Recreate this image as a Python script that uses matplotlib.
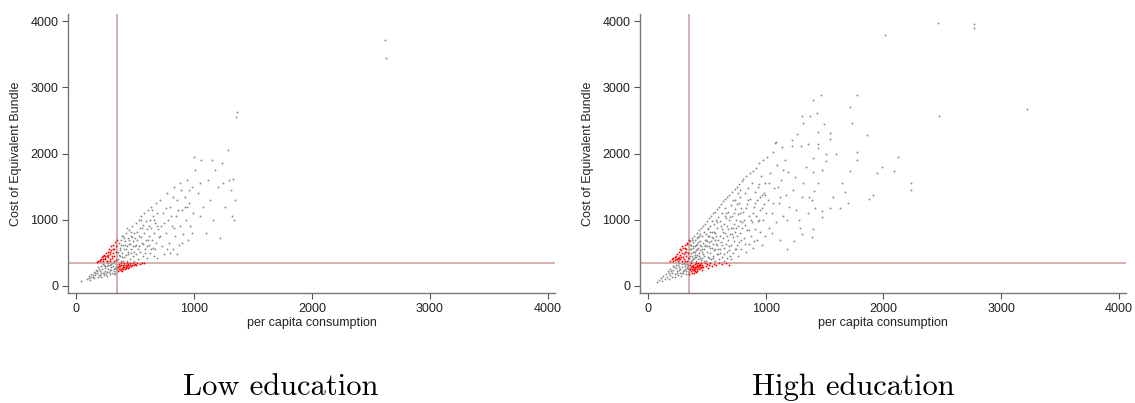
import numpy as np
import matplotlib
matplotlib.use('Agg')
import matplotlib.pyplot as plt

# poverty line (same on both axes)
poverty_line = 350
ticks = [0, 1000, 2000, 3000, 4000]
titles = ['Low education', 'High education']

# (per capita consumption, cost of equivalent bundle)
low_gray = [
    (40,80),(95,110),(110,150),(120,95),(130,180),(140,130),(150,210),(155,120),(165,160),(170,240),
    (180,190),(185,140),(190,280),(200,220),(205,170),(210,130),(215,300),(220,250),(230,200),(235,160),
    (240,320),(245,270),(250,230),(255,185),(260,150),(265,300),(270,340),(275,260),(280,210),(285,175),
    (290,320),(295,280),(300,240),(305,200),(310,340),(315,300),(320,260),(325,220),(330,190),(335,330),
    (340,290),(345,250),(228,330),(262,210),(198,250),(288,245),(318,185),(248,300),(178,220),(160,190),
    (142,170),(125,140),(112,125),(300,330),(215,190),(275,320),(240,200),(195,160),(330,270),
    (355,400),(360,520),(365,650),(370,450),(375,580),(380,700),(385,380),(390,500),(395,620),(400,760),
    (405,430),(410,560),(415,680),(420,800),(425,470),(430,380),(435,600),(440,720),(445,520),(450,850),
    (455,410),(460,640),(465,760),(470,560),(475,900),(480,450),(485,680),(490,800),(495,370),(500,600),
    (362,470),(378,620),(392,440),(408,720),(422,560),(438,480),(452,700),(468,820),(482,600),(498,720),
    (372,540),(388,760),(402,380),(418,620),(432,880),(448,640),(462,500),(478,740),(492,520),
    (505,950),(510,480),(515,700),(520,820),(525,400),(530,1000),(535,600),(540,880),(545,520),(550,740),
    (555,1050),(560,650),(565,450),(570,920),(575,800),(580,1100),(585,560),(590,700),(595,980),(600,420),
    (605,860),(610,1150),(615,620),(620,760),(625,1000),(630,500),(635,1200),(640,880),(645,700),(650,580),
    (655,1050),(660,800),(665,450),(670,950),(675,1250),(680,650),(685,1100),(690,420),(695,860),(700,740),
    (512,620),(538,760),(562,880),(588,500),(612,700),(638,560),(662,1000),(688,900),(548,1000),(598,600),
    (648,1150),(522,560),(572,640),(622,900),(672,560),
    (710,1300),(720,900),(730,600),(740,1100),(750,480),(760,800),(770,1400),(780,1000),(790,650),(800,1200),
    (810,900),(820,560),(830,1500),(840,750),(850,1050),(860,1300),(870,620),(880,900),(890,1450),(900,1150),
    (910,780),(920,1350),(930,1000),(940,1600),(950,700),(960,1250),(970,900),(980,1500),(990,1100),(1000,1950),
    (715,760),(745,950),(775,560),(805,1050),(835,880),(865,1150),(895,650),(925,1200),(955,1450),(985,800),
    (760,1180),(820,1350),(880,1550),(940,1200),(860,480),(800,500),
    (1010,1750),(1030,1400),(1050,1050),(1060,1900),(1080,1200),(1100,800),(1120,1600),(1140,1300),(1160,1000),
    (1180,1750),(1200,1500),(1220,720),(1240,1850),(1260,1200),(1290,2050),(1300,1600),(1310,1450),(1320,1050),
    (1330,1620),(1340,990),(1350,1300),(1360,2550),(1365,2620),(1050,1550),(1150,1900),(1250,1550),
    (2620,3710),(2630,3440),
]
low_red = [
    (180,360),(190,380),(200,390),(205,370),(210,410),(220,430),(225,380),(230,450),(240,470),(245,400),
    (250,420),(255,500),(260,460),(265,380),(270,520),(275,440),(280,560),(285,400),(290,480),(295,540),
    (300,600),(305,420),(310,500),(315,620),(320,450),(325,560),(330,660),(335,390),(340,520),(345,700),
    (260,370),(290,380),(318,370),(232,400),(272,470),(302,460),(338,600),(312,560),(284,520),(248,450),
    (355,220),(360,280),(365,330),(370,250),(375,300),(380,240),(385,340),(390,270),(395,310),(400,250),
    (405,340),(410,290),(415,260),(420,320),(425,280),(430,340),(435,300),(440,270),(445,330),(450,290),
    (460,320),(470,300),(480,340),(490,310),(500,330),(510,320),(520,340),(540,330),(560,345),(580,340),
    (362,250),(378,320),(392,230),(408,310),(422,270),(438,320),(455,340),(475,320),(395,280),(368,300),
]
high_gray = [
    (75,65),(95,90),(110,120),(120,80),(130,150),(145,110),(155,180),(160,130),(170,220),(175,100),
    (185,160),(190,260),(200,200),(205,140),(210,300),(215,240),(225,180),(230,130),(235,320),(240,270),
    (250,220),(255,170),(260,340),(265,290),(270,250),(275,200),(280,150),(285,330),(290,280),(295,230),
    (300,190),(305,340),(310,300),(315,260),(320,220),(325,180),(330,330),(335,290),(340,250),(345,210),
    (180,200),(220,280),(245,190),(262,240),(288,200),(308,240),(328,270),(342,320),(198,230),(258,310),(318,330),
    (352,420),(355,560),(358,680),(362,380),(365,500),(368,620),(372,720),(375,450),(378,580),(382,400),
    (385,660),(388,520),(392,760),(395,440),(398,600),(402,700),(405,380),(408,540),(412,800),(415,470),
    (418,640),(422,740),(425,400),(428,580),(432,840),(435,500),(438,680),(442,420),(445,780),(448,600),
    (450,880),(360,460),(380,520),(400,470),(420,560),(440,620),(370,390),(390,420),(410,440),(430,460),
    (446,390),(356,620),(376,700),(396,520),(416,720),(436,760),(426,660),(406,620),(386,600),(366,560),(444,540),
    (455,520),(458,760),(462,420),(465,650),(468,900),(472,560),(475,820),(478,460),(482,700),(485,940),
    (488,600),(492,380),(495,780),(498,520),(502,980),(505,680),(508,440),(512,860),(515,600),(518,1020),
    (522,760),(525,500),(528,900),(532,400),(535,680),(538,1060),(542,580),(545,820),(548,460),(552,1100),
    (555,720),(558,940),(562,540),(565,380),(568,1120),(572,800),(575,640),(578,1000),(582,480),(585,880),
    (588,1160),(592,700),(595,560),(598,1040),(600,400),(460,560),(480,620),(500,600),(520,660),(540,740),
    (560,820),(580,760),(470,480),(490,700),(510,760),(530,820),(550,640),(570,560),(590,620),(506,880),
    (526,580),(546,980),(566,700),(586,960),(476,380),(516,420),(556,420),(596,480),
    (605,1200),(608,760),(612,560),(615,980),(618,1240),(622,660),(625,860),(628,440),(632,1100),(635,720),
    (638,1280),(642,580),(645,940),(648,480),(652,1180),(655,800),(658,1320),(662,640),(665,1020),(668,420),
    (672,900),(675,1350),(678,700),(682,1120),(685,540),(688,1000),(692,1380),(695,780),(698,460),(702,1220),
    (705,880),(708,620),(712,1420),(715,1060),(718,740),(722,500),(725,1300),(728,940),(732,680),(735,1460),
    (738,820),(742,1160),(745,560),(748,1000),(752,1500),(755,760),(758,1240),(762,900),(765,460),(768,1080),
    (772,1540),(775,660),(778,1340),(782,980),(785,800),(788,1180),(792,560),(795,1580),(798,880),(620,900),
    (640,820),(660,1100),(680,860),(700,1040),(720,880),(740,1300),(760,620),(780,1100),(800,960),(630,620),
    (650,1050),(670,760),(690,600),(710,780),(730,1100),(750,880),(770,1250),(790,700),(615,500),(645,380),
    (675,520),(705,410),(735,560),(765,1400),(785,1450),
    (805,1620),(810,1120),(815,720),(820,1400),(825,920),(830,520),(835,1660),(840,1240),(845,840),(850,1480),
    (855,640),(860,1060),(865,1700),(870,1320),(875,760),(880,1560),(885,960),(890,580),(895,1740),(900,1200),
    (905,860),(910,1420),(915,1060),(920,1780),(925,700),(930,1300),(935,980),(940,1860),(945,1540),(950,820),
    (955,1140),(960,1660),(965,620),(970,1380),(975,1000),(980,1900),(985,1240),(990,760),(995,1560),(1000,1100),
    (812,1000),(832,1180),(852,1300),(872,1000),(892,1100),(912,1250),(932,1500),(952,1350),(972,1180),(992,1380),
    (822,640),(862,850),(902,680),(942,1000),(982,1400),
    (1010,1950),(1020,1300),(1030,880),(1040,1700),(1050,1100),(1060,2020),(1070,1480),(1080,2160),(1085,2180),
    (1090,960),(1100,1820),(1110,1250),(1120,700),(1130,1600),(1140,2100),(1150,1050),(1160,1900),(1170,1380),
    (1180,560),(1190,1720),(1200,1200),(1025,1550),(1065,1250),(1105,1500),(1145,1750),(1185,1000),(1055,800),(1125,1350),
    (1221,2212),(1264,2293),(1306,2564),(1315,2454),(1376,2560),(1404,2805),(1434,2614),(1448,2320),(1470,2881),
    (1498,2439),(1546,2303),(1546,2220),(1448,2150),(1448,2080),(1363,2150),(1221,2110),(1300,2110),(1510,1991),
    (1510,1890),(1405,1930),(1476,1750),(1405,1720),(1448,1560),(1413,1440),(1365,1350),(1306,1350),(1420,1180),
    (1476,1130),(1405,860),(1306,790),(1391,740),(1250,1650),(1280,1000),(1340,1800),(1230,1450),(1260,1150),
    (1320,1550),(1360,1100),(1290,880),(1240,680),(1390,1300),
    (1575,1347),(1628,1172),(1546,1172),(1476,1045),(1673,1423),(1716,1740),(1716,2705),(1731,2454),(1773,2881),
    (1773,2026),(1773,1900),(1858,2277),(1881,1317),(1915,1373),(1943,1709),(1986,1800),(2016,3796),(2094,1740),
    (2122,1950),(2237,1549),(2237,1448),(2467,3977),(2475,2569),(2773,3952),(2773,3902),(3217,2680),(1600,2000),
    (1650,1550),(1700,1250),
]
high_red = [
    (190,370),(200,400),(210,380),(215,420),(225,440),(230,390),(240,460),(245,410),(250,490),(255,370),
    (260,440),(265,510),(270,400),(275,470),(280,540),(285,380),(290,500),(295,440),(300,580),(305,400),
    (310,520),(315,620),(320,460),(325,560),(330,380),(335,640),(340,500),(345,690),(262,400),(282,440),
    (302,480),(322,520),(338,420),(312,370),(292,600),(272,560),(252,420),(236,400),(318,580),(328,650),
    (352,180),(355,250),(358,310),(362,220),(365,280),(368,340),(372,200),(375,260),(378,320),(382,240),
    (385,300),(388,190),(392,270),(395,330),(398,230),(402,290),(405,210),(408,345),(412,260),(415,310),
    (418,230),(422,280),(425,340),(430,250),(435,300),(440,270),(445,330),(450,290),(455,240),(460,320),
    (470,280),(480,340),(490,300),(500,330),(510,270),(520,320),(530,345),(545,300),(560,335),(575,320),
    (600,340),(625,330),(660,340),(690,320),(360,260),(380,280),(400,260),(420,300),(440,320),(460,280),
    (370,300),(390,240),(410,280),(430,320),(450,340),
]

plt.rcParams['font.family'] = ['Liberation Sans', 'DejaVu Sans']

fig = plt.figure(figsize=(11.35, 4.03), dpi=100)
ax_left = fig.add_axes([0.0599, 0.273, 0.429, 0.692])
ax_right = fig.add_axes([0.5639, 0.273, 0.428, 0.692])

panels = [(ax_left, low_gray, low_red), (ax_right, high_gray, high_red)]

for ax, gray, red in panels:
    g = np.array(gray)
    r = np.array(red)
    ax.scatter(g[:, 0], g[:, 1], s=1.8, color='#8a8a8a', linewidths=0, zorder=2)
    ax.scatter(r[:, 0], r[:, 1], s=1.8, color='red', linewidths=0, zorder=3)
    ax.axvline(poverty_line, color='#c99a9a', lw=1.1, zorder=1)
    ax.axhline(poverty_line, color='#c99a9a', lw=1.1, zorder=1)
    ax.set_xlim(-68, 4060)
    ax.set_ylim(-106, 4106)
    ax.set_xticks(ticks)
    ax.set_yticks(ticks)
    for side in ['top', 'right']:
        ax.spines[side].set_visible(False)
    for side in ['left', 'bottom']:
        ax.spines[side].set_color('#777777')
        ax.spines[side].set_linewidth(1.0)
    ax.tick_params(direction='out', length=4, width=0.8, color='#555555',
                   labelsize=9, labelcolor='#222222', pad=3)
    ax.set_xlabel('per capita consumption', fontsize=9, color='#222222', labelpad=2)
    ax.set_ylabel('Cost of Equivalent Bundle', fontsize=9, color='#222222', labelpad=6)

fig.text(0.2475, 0.04, titles[0], ha='center', va='center', fontsize=22, family='cmr10')
fig.text(0.7515, 0.04, titles[1], ha='center', va='center', fontsize=22, family='cmr10')

fig.savefig('out.png', dpi=100)
